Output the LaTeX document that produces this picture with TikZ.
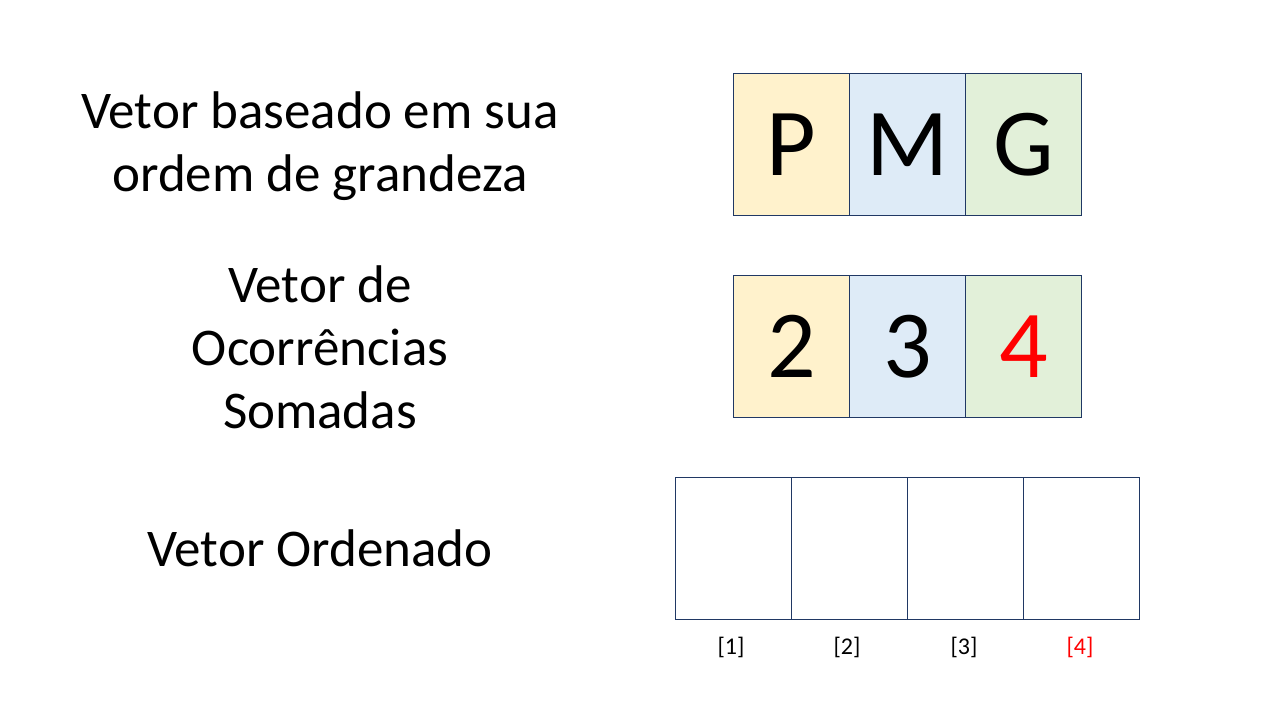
\documentclass[tikz,border=0pt]{standalone}
\usepackage{fontspec}
\setmainfont{Carlito}
\definecolor{cyel}{HTML}{FFF2CC}
\definecolor{cblu}{HTML}{DEEBF7}
\definecolor{cgrn}{HTML}{E2F0D9}
\definecolor{cbrd}{HTML}{203864}
\definecolor{cred}{HTML}{FF0000}
\begin{document}
\begin{tikzpicture}[x=1pt,y=-1pt,
  cell/.style={draw=cbrd,line width=1pt,minimum width=116pt,minimum height=142pt,inner sep=0pt,anchor=north west,font=\fontsize{96}{100}\selectfont},
  lbl/.style={align=center,font=\fontsize{53}{63}\selectfont},
  idx/.style={font=\fontsize{24}{28}\selectfont}]
\useasboundingbox (0,0) rectangle (1280,720);
% row 1
\node[cell,fill=cyel] (p) at (733,73) {P};
\node[cell,fill=cblu] (m) at (849,73) {M};
\node[cell,fill=cgrn] (g) at (965,73) {G};
% row 2
\node[cell,fill=cyel] (n2) at (733,275) {2};
\node[cell,fill=cblu] (n3) at (849,275) {3};
\node[cell,fill=cgrn,text=cred] (n4) at (965,275) {4};
% row 3
\node[cell] (o1) at (675,477) {};
\node[cell] (o2) at (791,477) {};
\node[cell] (o3) at (907,477) {};
\node[cell] (o4) at (1023,477) {};
\node[idx] (i1) at (731,647) {[1]};
\node[idx] (i2) at (847,647) {[2]};
\node[idx] (i3) at (964,647) {[3]};
\node[idx,text=cred] (i4) at (1080,647) {[4]};
% labels
\node[lbl] (t1) at (320,146) {Vetor baseado em sua\\ordem de grandeza};
\node[lbl] (t2) at (320,347) {Vetor de\\Ocorrências\\Somadas};
\node[lbl] (t3) at (320,548) {Vetor Ordenado};
\end{tikzpicture}
\end{document}
